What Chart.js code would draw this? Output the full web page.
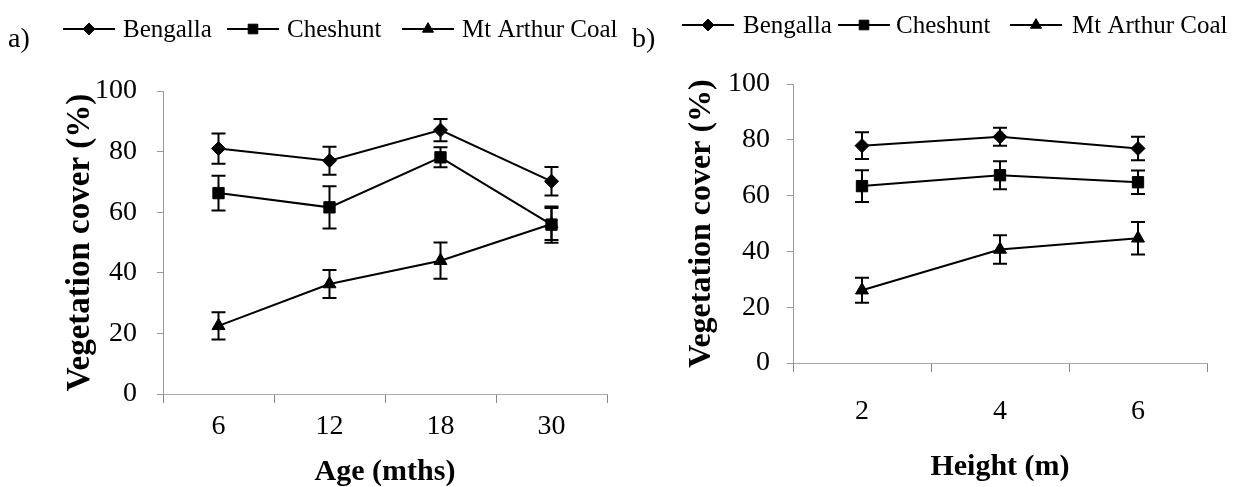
<!DOCTYPE html>
<html>
<head>
<meta charset="utf-8">
<script src="https://cdn.jsdelivr.net/npm/chart.js@4.4.1/dist/chart.umd.min.js"></script>
<style>
html, body { margin: 0; padding: 0; background: #fff; overflow: hidden; }
#wrap { position: relative; width: 1238px; height: 487px; }
.panel { position: absolute; top: 0; height: 487px; }
#pa { left: 0; width: 620px; }
#pb { left: 620px; width: 618px; }
</style>
</head>
<body>
<div id="wrap">
  <div class="panel" id="pa"><canvas id="chartA"></canvas></div>
  <div class="panel" id="pb"><canvas id="chartB"></canvas></div>
</div>
<script>
// ---- data ----
var seriesNames = ['Bengalla', 'Cheshunt', 'Mt Arthur Coal'];
var yTicks = [0, 20, 40, 60, 80, 100];

// a) vegetation cover by age
var ageLabels = ['6', '12', '18', '30'];
var ageBengalla = [81.0, 77.0, 87.1, 70.2];
var ageBengallaErr = [5.0, 4.6, 3.7, 4.7];
var ageCheshunt = [66.3, 61.6, 78.1, 55.9];
var ageCheshuntErr = [5.7, 7.0, 3.3, 6.0];
var ageMtArthur = [22.5, 36.3, 44.0, 56.1];
var ageMtArthurErr = [4.5, 4.6, 6.0, 5.3];

// b) vegetation cover by height
var heightLabels = ['2', '4', '6'];
var heightBengalla = [77.9, 81.1, 76.9];
var heightBengallaErr = [4.8, 3.2, 4.2];
var heightCheshunt = [63.4, 67.3, 64.8];
var heightCheshuntErr = [5.7, 5.0, 4.2];
var heightMtArthur = [26.1, 40.7, 44.7];
var heightMtArthurErr = [4.5, 5.1, 5.8];

var serif = '"Liberation Serif", "Times New Roman", serif';
var pointStyles = ['rectRot', 'rect', 'triangle'];
var pointSizes = [7, 8, 7.5];

// error bars drawn from the y scale
var errorBars = {
    id: 'errorBars',
    afterDatasetsDraw: function (chart) {
        var ctx = chart.ctx, y = chart.scales.y;
        ctx.save();
        ctx.strokeStyle = '#000';
        ctx.lineWidth = 2;
        chart.data.datasets.forEach(function (ds, i) {
            var meta = chart.getDatasetMeta(i);
            meta.data.forEach(function (pt, j) {
                var top = y.getPixelForValue(ds.data[j] + ds.errors[j]);
                var bot = y.getPixelForValue(ds.data[j] - ds.errors[j]);
                ctx.beginPath();
                ctx.moveTo(pt.x, top); ctx.lineTo(pt.x, bot);
                ctx.moveTo(pt.x - 7, top); ctx.lineTo(pt.x + 7, top);
                ctx.moveTo(pt.x - 7, bot); ctx.lineTo(pt.x + 7, bot);
                ctx.stroke();
            });
        });
        ctx.restore();
    }
};

// panel tag + line/marker legend across the top
var keyRow = {
    id: 'keyRow',
    afterDraw: function (chart, args, opts) {
        var ctx = chart.ctx;
        ctx.save();
        ctx.fillStyle = '#000';
        ctx.strokeStyle = '#000';
        ctx.font = '28px ' + serif;
        ctx.textBaseline = 'alphabetic';
        ctx.fillText(opts.tag, opts.tagX, opts.tagY);
        ctx.font = '25px ' + serif;
        ctx.textBaseline = 'middle';
        chart.data.datasets.forEach(function (ds, i) {
            var x0 = opts.lineX[i], y0 = opts.y;
            ctx.lineWidth = 2;
            ctx.beginPath();
            ctx.moveTo(x0, y0); ctx.lineTo(x0 + 52, y0);
            ctx.stroke();
            ctx.lineWidth = 1;
            Chart.helpers.drawPoint(ctx, {
                pointStyle: ds.pointStyle, radius: ds.pointRadius * 0.85,
                rotation: 0, borderWidth: 1
            }, x0 + 26, y0);
            ctx.fillText(ds.label, opts.textX[i], y0 + 1);
        });
        ctx.restore();
    }
};

function buildSets(values, errors) {
    return values.map(function (v, i) {
        return {
            label: seriesNames[i],
            data: v,
            errors: errors[i],
            borderColor: '#000',
            backgroundColor: '#000',
            borderWidth: 2,
            tension: 0,
            pointStyle: pointStyles[i],
            pointRadius: pointSizes[i],
            pointBackgroundColor: '#000',
            pointBorderColor: '#000',
            pointBorderWidth: 1
        };
    });
}

function makeChart(id, labels, sets, lay) {
    return new Chart(document.getElementById(id), {
        type: 'line',
        data: { labels: labels, datasets: sets },
        plugins: [errorBars, keyRow],
        options: {
            responsive: true,
            maintainAspectRatio: false,
            animation: false,
            layout: { padding: { top: lay.top, right: lay.right, left: 0, bottom: 0 } },
            plugins: {
                legend: { display: false },
                tooltip: { enabled: false },
                keyRow: lay.key
            },
            scales: {
                x: {
                    type: 'category',
                    offset: true,
                    grid: {
                        offset: true, drawOnChartArea: false, drawTicks: true,
                        tickLength: 9, color: '#888', lineWidth: 1
                    },
                    border: { display: true, color: '#aaa', width: 1, dash: [30, 12] },
                    ticks: { color: '#000', padding: lay.xPad, font: { family: serif, size: 28 } },
                    title: {
                        display: true, text: lay.xTitle, color: '#000',
                        font: { family: serif, size: 30, weight: 'bold', lineHeight: 1 },
                        padding: { top: 0, bottom: lay.xTitlePad }
                    },
                    afterFit: function (s) { s.height = lay.xHeight; }
                },
                y: {
                    min: 0, max: 100,
                    afterBuildTicks: function (s) { s.ticks = yTicks.map(function (v) { return { value: v }; }); },
                    grid: { drawOnChartArea: false, drawTicks: true, tickLength: 6, color: '#999' },
                    border: { display: true, color: '#999', width: 1, dash: [5, 2] },
                    ticks: { color: '#000', padding: lay.yPad, font: { family: serif, size: 28 } },
                    title: {
                        display: true, text: 'Vegetation cover (%)', color: '#000',
                        font: { family: serif, size: lay.yTitleSize, weight: 'bold', lineHeight: 1 },
                        padding: { top: lay.yTitlePad, bottom: 0 }
                    },
                    afterFit: function (s) { s.width = lay.yWidth; }
                }
            }
        }
    });
}

makeChart('chartA', ageLabels,
    buildSets([ageBengalla, ageCheshunt, ageMtArthur], [ageBengallaErr, ageCheshuntErr, ageMtArthurErr]),
    {
        top: 91, right: 13, yWidth: 163, xHeight: 93, xPad: 7, yPad: 20,
        xTitle: 'Age (mths)', xTitlePad: 0, yTitleSize: 33, yTitlePad: 64,
        key: { tag: 'a)', tagX: 8, tagY: 47, y: 29, lineX: [63, 227, 402], textX: [123, 287, 462] }
    });

makeChart('chartB', heightLabels,
    buildSets([heightBengalla, heightCheshunt, heightMtArthur], [heightBengallaErr, heightCheshuntErr, heightMtArthurErr]),
    {
        top: 84, right: 31, yWidth: 173, xHeight: 124, xPad: 23, yPad: 17,
        xTitle: 'Height (m)', xTitlePad: 5, yTitleSize: 32, yTitlePad: 66,
        key: { tag: 'b)', tagX: 12, tagY: 47, y: 25, lineX: [62, 218, 390], textX: [123, 276, 452] }
    });
</script>
</body>
</html>
